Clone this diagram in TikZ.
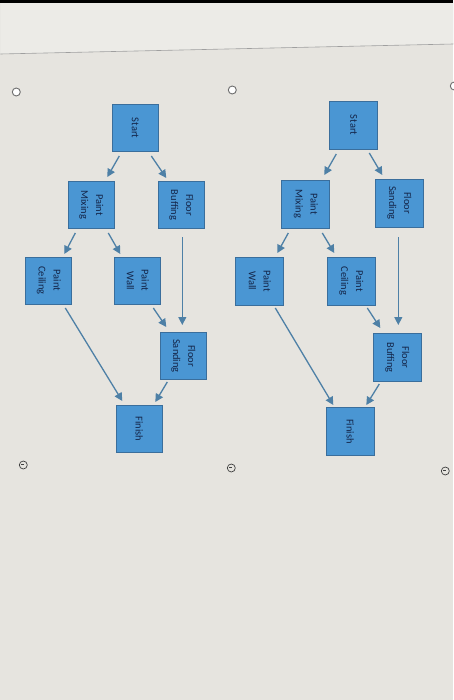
\documentclass[tikz,border=0pt]{standalone}
\usepackage{fontspec}
\setmainfont{Carlito}
\usetikzlibrary{calc,arrows.meta}
\definecolor{paper}{HTML}{E6E4DF}
\definecolor{paperTop}{HTML}{ECEBE7}
\definecolor{boxfill}{HTML}{4A96D3}
\definecolor{boxline}{HTML}{3A6E9C}
\definecolor{boxtext}{HTML}{14264A}
\definecolor{arrowc}{HTML}{4E80A6}
\tikzset{
  taskbox/.style={draw=boxline, line width=0.9bp, fill=boxfill, text=boxtext,
    rotate=-90, align=center, inner sep=0pt, minimum width=47bp, minimum height=46bp,
    font=\fontsize{10.5}{15}\selectfont},
  rtaskbox/.style={taskbox, minimum width=48bp, minimum height=48bp},
  flow/.style={draw=arrowc, line width=1.3bp, -{Triangle[length=8bp,width=8bp]}},
  radio/.style={draw=gray!85!black, fill=white, line width=0.9bp},
  zoomicon/.style={draw=black!75, line width=0.7bp}
}
\begin{document}
\begin{tikzpicture}[x=1bp,y=-1bp]
% page background
\fill[paper] (0,0) rectangle (453,700);
\fill[paperTop] (0,0) -- (453,0) -- (453,44) -- (0,54) -- cycle;
\fill[black] (0,0) rectangle (453,3);
\draw[gray!75, line width=0.6bp] (0,54) -- (453,44);
\useasboundingbox (0,0) rectangle (453,700);

% radio buttons
\draw[radio] (16,92) circle (4);
\draw[radio] (232,90) circle (4);
\draw[radio] (454,86) circle (4);
% small icons
\foreach \p in {(23,465),(231,468),(445,471)}{
  \draw[zoomicon] \p circle (4);
  \draw[zoomicon] \p ++(-2,-0.5) -- ++(3,0);
}

% ---------- left diagram ----------
\node[taskbox] (LStart) at (135,128) {Start};
\node[taskbox] (LMix) at (91,205) {Paint\\Mixing};
\node[taskbox] (LBuf) at (181,205) {Floor\\Buffing};
\node[taskbox] (LCeil) at (48.5,280.5) {Paint\\Ceiling};
\node[taskbox] (LWall) at (137.5,280.5) {Paint\\Wall};
\node[taskbox] (LSand) at (183,356) {Floor\\Sanding};
\node[taskbox] (LFin) at (139,429) {Finish};

\draw[flow] ($(LStart)+(-16,28)$) -- ($(LMix)+(16,-28)$);
\draw[flow] ($(LStart)+(16,28)$) -- ($(LBuf)+(-15,-27)$);
\draw[flow] ($(LMix)+(-16,28)$) -- ($(LCeil)+(15.5,-26.5)$);
\draw[flow] ($(LMix)+(17,28)$) -- ($(LWall)+(-17.5,-26.5)$);
\draw[flow] ($(LBuf)+(1,32)$) -- ($(LSand)+(-1,-31)$);
\draw[flow] ($(LWall)+(15.5,27.5)$) -- ($(LSand)+(-17,-29)$);
\draw[flow] ($(LCeil)+(16.5,27.5)$) -- ($(LFin)+(-17,-28)$);
\draw[flow] ($(LSand)+(-16,26)$) -- ($(LFin)+(16,-27)$);

% ---------- right diagram ----------
\node[rtaskbox] (RStart) at (353.5,125) {Start};
\node[rtaskbox] (RMix) at (305.5,204) {Paint\\Mixing};
\node[rtaskbox] (RSand) at (399,203) {Floor\\Sanding};
\node[rtaskbox] (RWall) at (259.5,281) {Paint\\Wall};
\node[rtaskbox] (RCeil) at (351,281) {Paint\\Ceiling};
\node[rtaskbox] (RBuf) at (397,357.5) {Floor\\Buffing};
\node[rtaskbox] (RFin) at (350,431.5) {Finish};

\draw[flow] ($(RStart)+(-17.5,29)$) -- ($(RMix)+(18.5,-29)$);
\draw[flow] ($(RStart)+(15.5,28)$) -- ($(RSand)+(-17,-28)$);
\draw[flow] ($(RMix)+(-17.5,29)$) -- ($(RWall)+(17.5,-28)$);
\draw[flow] ($(RMix)+(16.5,29)$) -- ($(RCeil)+(-17,-28)$);
\draw[flow] ($(RSand)+(-1,34)$) -- ($(RBuf)+(1,-32.5)$);
\draw[flow] ($(RCeil)+(16,27)$) -- ($(RBuf)+(-17,-29.5)$);
\draw[flow] ($(RWall)+(15.5,27)$) -- ($(RFin)+(-17,-26.5)$);
\draw[flow] ($(RBuf)+(-18,26.5)$) -- ($(RFin)+(16,-26.5)$);
\end{tikzpicture}
\end{document}
